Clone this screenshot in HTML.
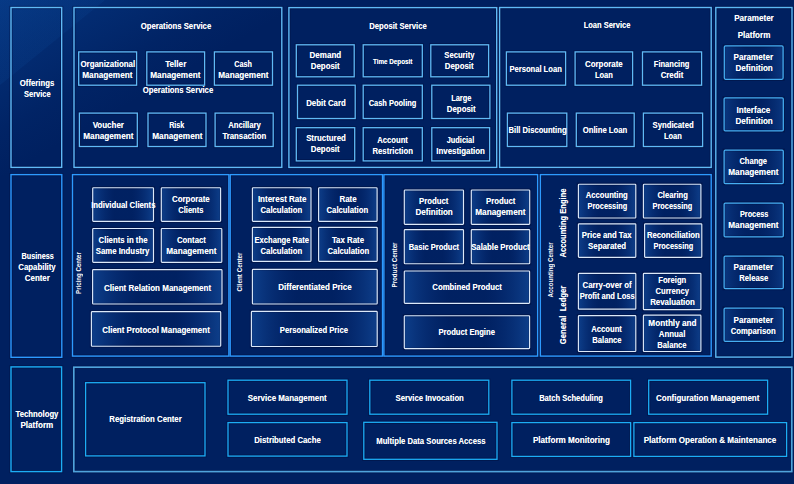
<!DOCTYPE html>
<html><head><meta charset="utf-8"><title>Architecture</title>
<style>
*{box-sizing:border-box;margin:0;padding:0}
html,body{width:794px;height:484px;overflow:hidden}
body{position:relative;background:#002060;font-family:"Liberation Sans",sans-serif;color:#fff;font-weight:bold;font-size:8.3px;line-height:11px;text-shadow:0 0 .6px rgba(255,255,255,.55)}
#bg{position:absolute;left:0;top:0;width:794px;height:484px;background:
 linear-gradient(141deg, rgba(16,90,175,.12) 0, rgba(16,90,175,.12) 7.5%, rgba(16,90,175,0) 7.6%),
 linear-gradient(150deg, rgba(12,78,165,.46) 0, rgba(12,78,165,.26) 7%, rgba(12,78,165,.08) 14%, rgba(12,78,165,0) 19%);}
svg{position:absolute;left:0;top:0}
.t{position:absolute;display:flex;flex-direction:column;align-items:center;justify-content:center;text-align:center}
span{display:block;white-space:pre}
.small span{font-size:6.6px}
.l{position:absolute;transform:translate(-50%,-50%);display:flex;flex-direction:column;align-items:center}
.v{position:absolute;transform:translate(-50%,-50%) rotate(-90deg)}
.vs{font-size:6.6px;line-height:8px;text-shadow:none}
</style></head><body>
<div id="bg"></div>
<svg width="794" height="484" viewBox="0 0 794 484">
<defs>
<linearGradient id="gw" x1="0" y1="0" x2="1" y2="0"><stop offset="0" stop-color="#1e64be" stop-opacity=".45"/><stop offset=".36" stop-color="#0a3282" stop-opacity=".06"/><stop offset=".64" stop-color="#0a3282" stop-opacity=".06"/><stop offset="1" stop-color="#1e64be" stop-opacity=".45"/></linearGradient>
<linearGradient id="gp" x1="0" y1="0" x2="1" y2="0"><stop offset="0" stop-color="#1e64be" stop-opacity=".34"/><stop offset=".38" stop-color="#0a3282" stop-opacity=".08"/><stop offset=".62" stop-color="#0a3282" stop-opacity=".08"/><stop offset="1" stop-color="#1e64be" stop-opacity=".34"/></linearGradient>
</defs>
<g fill="none" stroke="#001040" stroke-opacity=".55" stroke-width="3.2">
<rect x="11.0" y="7.5" width="50.7" height="159.9"/>
<rect x="74.0" y="7.5" width="207.8" height="159.9"/>
<rect x="288.9" y="7.6" width="207.8" height="159.8"/>
<rect x="499.6" y="7.5" width="211.6" height="159.9"/>
<rect x="715.8" y="7.5" width="76.2" height="349.6"/>
<rect x="11.0" y="174.6" width="50.8" height="182.7"/>
<rect x="72.5" y="174.6" width="156.4" height="181.5"/>
<rect x="230.2" y="174.6" width="152.3" height="181.5"/>
<rect x="383.9" y="174.6" width="153.7" height="181.5"/>
<rect x="540.4" y="174.6" width="170.8" height="181.5"/>
<rect x="11.0" y="366.9" width="50.6" height="104.7"/>
<rect x="73.8" y="367.2" width="718.0" height="104.4"/>
<rect x="78.7" y="51.9" width="57.9" height="33.3"/>
<rect x="146.8" y="51.9" width="57.8" height="33.3"/>
<rect x="214.4" y="51.9" width="58.1" height="33.3"/>
<rect x="79.4" y="113.1" width="57.9" height="33.4"/>
<rect x="148.0" y="113.1" width="58.0" height="33.4"/>
<rect x="215.1" y="113.1" width="58.1" height="33.4"/>
<rect x="296.3" y="44.8" width="57.9" height="32.0"/>
<rect x="363.2" y="44.8" width="59.1" height="32.0"/>
<rect x="430.8" y="44.8" width="57.8" height="32.0"/>
<rect x="297.5" y="85.2" width="57.7" height="33.3"/>
<rect x="363.2" y="85.2" width="59.1" height="33.3"/>
<rect x="431.8" y="85.2" width="58.1" height="33.3"/>
<rect x="296.3" y="127.7" width="58.4" height="33.2"/>
<rect x="363.2" y="127.7" width="59.1" height="33.2"/>
<rect x="431.8" y="127.7" width="57.8" height="33.2"/>
<rect x="506.4" y="51.9" width="59.2" height="33.3"/>
<rect x="575.1" y="51.9" width="57.5" height="33.3"/>
<rect x="642.5" y="51.9" width="59.1" height="33.3"/>
<rect x="507.4" y="113.1" width="59.4" height="33.4"/>
<rect x="576.3" y="113.1" width="57.9" height="33.4"/>
<rect x="643.4" y="113.1" width="59.2" height="33.4"/>
<rect x="85.6" y="382.7" width="119.4" height="73.2"/>
<rect x="228.0" y="380.2" width="119.0" height="34.0"/>
<rect x="228.0" y="422.6" width="119.0" height="33.5"/>
<rect x="369.8" y="380.2" width="119.0" height="34.0"/>
<rect x="363.8" y="422.3" width="133.2" height="37.0"/>
<rect x="511.9" y="380.2" width="118.7" height="34.0"/>
<rect x="511.9" y="422.6" width="118.7" height="33.8"/>
<rect x="648.7" y="380.2" width="118.9" height="34.0"/>
<rect x="633.9" y="422.6" width="152.7" height="33.8"/>
<rect x="724.3" y="45.9" width="58.8" height="33.4"/>
<rect x="724.1" y="97.9" width="59.2" height="33.0"/>
<rect x="724.1" y="150.2" width="59.2" height="33.4"/>
<rect x="724.1" y="203.0" width="59.2" height="33.9"/>
<rect x="724.1" y="256.0" width="59.2" height="32.6"/>
<rect x="724.1" y="308.0" width="59.2" height="33.4"/>
<rect x="92.7" y="187.7" width="60.8" height="33.7"/>
<rect x="161.3" y="187.7" width="59.3" height="33.7"/>
<rect x="92.7" y="228.5" width="60.8" height="33.8"/>
<rect x="161.3" y="228.5" width="60.5" height="33.8"/>
<rect x="92.6" y="269.6" width="129.4" height="34.4"/>
<rect x="91.4" y="311.6" width="129.3" height="34.6"/>
<rect x="252.4" y="187.7" width="58.6" height="33.7"/>
<rect x="318.6" y="187.7" width="58.5" height="33.7"/>
<rect x="252.4" y="227.3" width="58.6" height="34.1"/>
<rect x="318.6" y="227.3" width="58.6" height="34.1"/>
<rect x="252.4" y="269.4" width="124.8" height="34.6"/>
<rect x="251.4" y="311.4" width="125.8" height="35.1"/>
<rect x="404.3" y="190.0" width="59.2" height="34.3"/>
<rect x="471.3" y="190.0" width="58.4" height="34.3"/>
<rect x="404.3" y="229.6" width="59.2" height="34.1"/>
<rect x="471.3" y="229.6" width="58.4" height="34.1"/>
<rect x="404.3" y="271.0" width="125.3" height="32.3"/>
<rect x="404.3" y="315.7" width="125.3" height="32.9"/>
<rect x="578.4" y="184.2" width="57.4" height="33.8"/>
<rect x="643.4" y="184.2" width="57.5" height="33.8"/>
<rect x="578.4" y="223.8" width="57.4" height="33.6"/>
<rect x="644.6" y="223.8" width="57.2" height="33.6"/>
<rect x="578.4" y="273.3" width="57.4" height="35.9"/>
<rect x="643.4" y="273.3" width="57.5" height="36.4"/>
<rect x="578.4" y="315.6" width="57.4" height="35.9"/>
<rect x="643.4" y="315.1" width="57.5" height="36.4"/>
</g>
<rect x="11.0" y="7.5" width="50.7" height="159.9" fill="none" stroke="#60baf7" stroke-width="1.4"/>
<rect x="74.0" y="7.5" width="207.8" height="159.9" fill="none" stroke="#60baf7" stroke-width="1.4"/>
<rect x="288.9" y="7.6" width="207.8" height="159.8" fill="none" stroke="#60baf7" stroke-width="1.4"/>
<rect x="499.6" y="7.5" width="211.6" height="159.9" fill="none" stroke="#60baf7" stroke-width="1.4"/>
<rect x="715.8" y="7.5" width="76.2" height="349.6" fill="none" stroke="#5cb8f4" stroke-width="1.4"/>
<rect x="11.0" y="174.6" width="50.8" height="182.7" fill="none" stroke="#2d9aff" stroke-width="1.4"/>
<rect x="72.5" y="174.6" width="156.4" height="181.5" fill="none" stroke="#2d9aff" stroke-width="1.4"/>
<rect x="230.2" y="174.6" width="152.3" height="181.5" fill="none" stroke="#2d9aff" stroke-width="1.4"/>
<rect x="383.9" y="174.6" width="153.7" height="181.5" fill="none" stroke="#2d9aff" stroke-width="1.4"/>
<rect x="540.4" y="174.6" width="170.8" height="181.5" fill="none" stroke="#2d9aff" stroke-width="1.4"/>
<rect x="11.0" y="366.9" width="50.6" height="104.7" fill="none" stroke="#1cadf6" stroke-width="1.4"/>
<rect x="73.8" y="367.2" width="718.0" height="104.4" fill="none" stroke="#4fa3dc" stroke-width="1.7"/>
<rect x="78.7" y="51.9" width="57.9" height="33.3" fill="none" stroke="#60baf7" stroke-width="1.3"/>
<rect x="146.8" y="51.9" width="57.8" height="33.3" fill="none" stroke="#60baf7" stroke-width="1.3"/>
<rect x="214.4" y="51.9" width="58.1" height="33.3" fill="none" stroke="#60baf7" stroke-width="1.3"/>
<rect x="79.4" y="113.1" width="57.9" height="33.4" fill="none" stroke="#60baf7" stroke-width="1.3"/>
<rect x="148.0" y="113.1" width="58.0" height="33.4" fill="none" stroke="#60baf7" stroke-width="1.3"/>
<rect x="215.1" y="113.1" width="58.1" height="33.4" fill="none" stroke="#60baf7" stroke-width="1.3"/>
<rect x="296.3" y="44.8" width="57.9" height="32.0" fill="none" stroke="#60baf7" stroke-width="1.3"/>
<rect x="363.2" y="44.8" width="59.1" height="32.0" fill="none" stroke="#60baf7" stroke-width="1.3"/>
<rect x="430.8" y="44.8" width="57.8" height="32.0" fill="none" stroke="#60baf7" stroke-width="1.3"/>
<rect x="297.5" y="85.2" width="57.7" height="33.3" fill="none" stroke="#60baf7" stroke-width="1.3"/>
<rect x="363.2" y="85.2" width="59.1" height="33.3" fill="none" stroke="#60baf7" stroke-width="1.3"/>
<rect x="431.8" y="85.2" width="58.1" height="33.3" fill="none" stroke="#60baf7" stroke-width="1.3"/>
<rect x="296.3" y="127.7" width="58.4" height="33.2" fill="none" stroke="#60baf7" stroke-width="1.3"/>
<rect x="363.2" y="127.7" width="59.1" height="33.2" fill="none" stroke="#60baf7" stroke-width="1.3"/>
<rect x="431.8" y="127.7" width="57.8" height="33.2" fill="none" stroke="#60baf7" stroke-width="1.3"/>
<rect x="506.4" y="51.9" width="59.2" height="33.3" fill="none" stroke="#60baf7" stroke-width="1.3"/>
<rect x="575.1" y="51.9" width="57.5" height="33.3" fill="none" stroke="#60baf7" stroke-width="1.3"/>
<rect x="642.5" y="51.9" width="59.1" height="33.3" fill="none" stroke="#60baf7" stroke-width="1.3"/>
<rect x="507.4" y="113.1" width="59.4" height="33.4" fill="none" stroke="#60baf7" stroke-width="1.3"/>
<rect x="576.3" y="113.1" width="57.9" height="33.4" fill="none" stroke="#60baf7" stroke-width="1.3"/>
<rect x="643.4" y="113.1" width="59.2" height="33.4" fill="none" stroke="#60baf7" stroke-width="1.3"/>
<rect x="85.6" y="382.7" width="119.4" height="73.2" fill="none" stroke="#1cadf6" stroke-width="1.3"/>
<rect x="228.0" y="380.2" width="119.0" height="34.0" fill="none" stroke="#1cadf6" stroke-width="1.3"/>
<rect x="228.0" y="422.6" width="119.0" height="33.5" fill="none" stroke="#1cadf6" stroke-width="1.3"/>
<rect x="369.8" y="380.2" width="119.0" height="34.0" fill="none" stroke="#1cadf6" stroke-width="1.3"/>
<rect x="363.8" y="422.3" width="133.2" height="37.0" fill="none" stroke="#1cadf6" stroke-width="1.3"/>
<rect x="511.9" y="380.2" width="118.7" height="34.0" fill="none" stroke="#1cadf6" stroke-width="1.3"/>
<rect x="511.9" y="422.6" width="118.7" height="33.8" fill="none" stroke="#1cadf6" stroke-width="1.3"/>
<rect x="648.7" y="380.2" width="118.9" height="34.0" fill="none" stroke="#1cadf6" stroke-width="1.3"/>
<rect x="633.9" y="422.6" width="152.7" height="33.8" fill="none" stroke="#1cadf6" stroke-width="1.3"/>
<rect x="724.3" y="45.9" width="58.8" height="33.4" fill="url(#gp)" stroke="#46aef2" stroke-width="1.25" rx="1.2"/>
<rect x="724.1" y="97.9" width="59.2" height="33.0" fill="url(#gp)" stroke="#46aef2" stroke-width="1.25" rx="1.2"/>
<rect x="724.1" y="150.2" width="59.2" height="33.4" fill="url(#gp)" stroke="#46aef2" stroke-width="1.25" rx="1.2"/>
<rect x="724.1" y="203.0" width="59.2" height="33.9" fill="url(#gp)" stroke="#46aef2" stroke-width="1.25" rx="1.2"/>
<rect x="724.1" y="256.0" width="59.2" height="32.6" fill="url(#gp)" stroke="#46aef2" stroke-width="1.25" rx="1.2"/>
<rect x="724.1" y="308.0" width="59.2" height="33.4" fill="url(#gp)" stroke="#46aef2" stroke-width="1.25" rx="1.2"/>
<rect x="92.7" y="187.7" width="60.8" height="33.7" fill="url(#gw)" stroke="#dce9fa" stroke-width="1.15" rx="0.8"/>
<rect x="161.3" y="187.7" width="59.3" height="33.7" fill="url(#gw)" stroke="#dce9fa" stroke-width="1.15" rx="0.8"/>
<rect x="92.7" y="228.5" width="60.8" height="33.8" fill="url(#gw)" stroke="#dce9fa" stroke-width="1.15" rx="0.8"/>
<rect x="161.3" y="228.5" width="60.5" height="33.8" fill="url(#gw)" stroke="#dce9fa" stroke-width="1.15" rx="0.8"/>
<rect x="92.6" y="269.6" width="129.4" height="34.4" fill="url(#gw)" stroke="#dce9fa" stroke-width="1.15" rx="0.8"/>
<rect x="91.4" y="311.6" width="129.3" height="34.6" fill="url(#gw)" stroke="#dce9fa" stroke-width="1.15" rx="0.8"/>
<rect x="252.4" y="187.7" width="58.6" height="33.7" fill="url(#gw)" stroke="#dce9fa" stroke-width="1.15" rx="0.8"/>
<rect x="318.6" y="187.7" width="58.5" height="33.7" fill="url(#gw)" stroke="#dce9fa" stroke-width="1.15" rx="0.8"/>
<rect x="252.4" y="227.3" width="58.6" height="34.1" fill="url(#gw)" stroke="#dce9fa" stroke-width="1.15" rx="0.8"/>
<rect x="318.6" y="227.3" width="58.6" height="34.1" fill="url(#gw)" stroke="#dce9fa" stroke-width="1.15" rx="0.8"/>
<rect x="252.4" y="269.4" width="124.8" height="34.6" fill="url(#gw)" stroke="#dce9fa" stroke-width="1.15" rx="0.8"/>
<rect x="251.4" y="311.4" width="125.8" height="35.1" fill="url(#gw)" stroke="#dce9fa" stroke-width="1.15" rx="0.8"/>
<rect x="404.3" y="190.0" width="59.2" height="34.3" fill="url(#gw)" stroke="#dce9fa" stroke-width="1.15" rx="0.8"/>
<rect x="471.3" y="190.0" width="58.4" height="34.3" fill="url(#gw)" stroke="#dce9fa" stroke-width="1.15" rx="0.8"/>
<rect x="404.3" y="229.6" width="59.2" height="34.1" fill="url(#gw)" stroke="#dce9fa" stroke-width="1.15" rx="0.8"/>
<rect x="471.3" y="229.6" width="58.4" height="34.1" fill="url(#gw)" stroke="#dce9fa" stroke-width="1.15" rx="0.8"/>
<rect x="404.3" y="271.0" width="125.3" height="32.3" fill="url(#gw)" stroke="#dce9fa" stroke-width="1.15" rx="0.8"/>
<rect x="404.3" y="315.7" width="125.3" height="32.9" fill="url(#gw)" stroke="#dce9fa" stroke-width="1.15" rx="0.8"/>
<rect x="578.4" y="184.2" width="57.4" height="33.8" fill="url(#gw)" stroke="#dce9fa" stroke-width="1.15" rx="0.8"/>
<rect x="643.4" y="184.2" width="57.5" height="33.8" fill="url(#gw)" stroke="#dce9fa" stroke-width="1.15" rx="0.8"/>
<rect x="578.4" y="223.8" width="57.4" height="33.6" fill="url(#gw)" stroke="#dce9fa" stroke-width="1.15" rx="0.8"/>
<rect x="644.6" y="223.8" width="57.2" height="33.6" fill="url(#gw)" stroke="#dce9fa" stroke-width="1.15" rx="0.8"/>
<rect x="578.4" y="273.3" width="57.4" height="35.9" fill="url(#gw)" stroke="#dce9fa" stroke-width="1.15" rx="0.8"/>
<rect x="643.4" y="273.3" width="57.5" height="36.4" fill="url(#gw)" stroke="#dce9fa" stroke-width="1.15" rx="0.8"/>
<rect x="578.4" y="315.6" width="57.4" height="35.9" fill="url(#gw)" stroke="#dce9fa" stroke-width="1.15" rx="0.8"/>
<rect x="643.4" y="315.1" width="57.5" height="36.4" fill="url(#gw)" stroke="#dce9fa" stroke-width="1.15" rx="0.8"/>
</svg>
<div class="t" style="left:78.7px;top:53.3px;width:57.9px;height:33.3px"><span style="transform:scaleX(0.949)">Organizational</span><span style="transform:scaleX(0.989)">Management</span></div>
<div class="t" style="left:146.8px;top:53.3px;width:57.8px;height:33.3px"><span style="transform:scaleX(0.982)">Teller</span><span style="transform:scaleX(0.989)">Management</span></div>
<div class="t" style="left:214.4px;top:53.3px;width:58.1px;height:33.3px"><span style="transform:scaleX(0.869)">Cash</span><span style="transform:scaleX(0.989)">Management</span></div>
<div class="t" style="left:79.4px;top:114.5px;width:57.9px;height:33.4px"><span style="transform:scaleX(0.961)">Voucher</span><span style="transform:scaleX(0.989)">Management</span></div>
<div class="t" style="left:148.0px;top:114.5px;width:58.0px;height:33.4px"><span style="transform:scaleX(0.867)">Risk</span><span style="transform:scaleX(0.989)">Management</span></div>
<div class="t" style="left:215.1px;top:114.0px;width:58.1px;height:33.4px"><span style="transform:scaleX(0.930)">Ancillary</span><span style="transform:scaleX(0.939)">Transaction</span></div>
<div class="t" style="left:296.3px;top:45.3px;width:57.9px;height:32.0px"><span style="transform:scaleX(0.966)">Demand</span><span style="transform:scaleX(0.946)">Deposit</span></div>
<div class="t small" style="left:363.2px;top:45.5px;width:59.1px;height:32.0px"><span style="transform:scaleX(0.955)">Time Deposit</span></div>
<div class="t" style="left:430.8px;top:45.1px;width:57.8px;height:32.0px"><span style="transform:scaleX(0.921)">Security</span><span style="transform:scaleX(0.946)">Deposit</span></div>
<div class="t" style="left:297.5px;top:87.2px;width:57.7px;height:33.3px"><span style="transform:scaleX(0.944)">Debit Card</span></div>
<div class="t" style="left:363.2px;top:87.2px;width:59.1px;height:33.3px"><span style="transform:scaleX(0.899)">Cash Pooling</span></div>
<div class="t" style="left:431.8px;top:87.1px;width:58.1px;height:33.3px"><span style="transform:scaleX(0.896)">Large</span><span style="transform:scaleX(0.946)">Deposit</span></div>
<div class="t" style="left:296.3px;top:127.6px;width:58.4px;height:33.2px"><span style="transform:scaleX(0.946)">Structured</span><span style="transform:scaleX(0.946)">Deposit</span></div>
<div class="t" style="left:363.2px;top:129.1px;width:59.1px;height:33.2px"><span style="transform:scaleX(0.922)">Account</span><span style="transform:scaleX(0.934)">Restriction</span></div>
<div class="t" style="left:431.8px;top:129.1px;width:57.8px;height:33.2px"><span style="transform:scaleX(0.890)">Judicial</span><span style="transform:scaleX(0.951)">Investigation</span></div>
<div class="t" style="left:506.4px;top:53.0px;width:59.2px;height:33.3px"><span style="transform:scaleX(0.916)">Personal Loan</span></div>
<div class="t" style="left:575.1px;top:53.3px;width:57.5px;height:33.3px"><span style="transform:scaleX(0.952)">Corporate</span><span style="transform:scaleX(0.904)">Loan</span></div>
<div class="t" style="left:642.5px;top:53.3px;width:59.1px;height:33.3px"><span style="transform:scaleX(0.907)">Financing</span><span style="transform:scaleX(0.945)">Credit</span></div>
<div class="t" style="left:507.4px;top:113.9px;width:59.4px;height:33.4px"><span style="transform:scaleX(0.917)">Bill Discounting</span></div>
<div class="t" style="left:576.3px;top:114.1px;width:57.9px;height:33.4px"><span style="transform:scaleX(0.931)">Online Loan</span></div>
<div class="t" style="left:643.4px;top:114.0px;width:59.2px;height:33.4px"><span style="transform:scaleX(0.928)">Syndicated</span><span style="transform:scaleX(0.904)">Loan</span></div>
<div class="t" style="left:85.6px;top:383.0px;width:119.4px;height:73.2px"><span style="transform:scaleX(0.941)">Registration Center</span></div>
<div class="t" style="left:228.0px;top:381.1px;width:119.0px;height:34.0px"><span style="transform:scaleX(0.956)">Service Management</span></div>
<div class="t" style="left:228.0px;top:423.5px;width:119.0px;height:33.5px"><span style="transform:scaleX(0.937)">Distributed Cache</span></div>
<div class="t" style="left:369.8px;top:381.1px;width:119.0px;height:34.0px"><span style="transform:scaleX(0.932)">Service Invocation</span></div>
<div class="t" style="left:363.8px;top:423.2px;width:133.2px;height:37.0px"><span style="transform:scaleX(0.928)">Multiple Data Sources Access</span></div>
<div class="t" style="left:511.9px;top:381.1px;width:118.7px;height:34.0px"><span style="transform:scaleX(0.910)">Batch Scheduling</span></div>
<div class="t" style="left:511.9px;top:423.5px;width:118.7px;height:33.8px"><span style="transform:scaleX(0.977)">Platform Monitoring</span></div>
<div class="t" style="left:648.7px;top:381.1px;width:118.9px;height:34.0px"><span style="transform:scaleX(0.963)">Configuration Management</span></div>
<div class="t" style="left:633.9px;top:423.5px;width:152.7px;height:33.8px"><span style="transform:scaleX(0.976)">Platform Operation &amp; Maintenance</span></div>
<div class="t" style="left:724.3px;top:46.5px;width:58.8px;height:33.4px"><span style="transform:scaleX(0.974)">Parameter</span><span style="transform:scaleX(0.975)">Definition</span></div>
<div class="t" style="left:724.1px;top:99.0px;width:59.2px;height:33.0px"><span style="transform:scaleX(0.973)">Interface</span><span style="transform:scaleX(0.975)">Definition</span></div>
<div class="t" style="left:724.1px;top:150.8px;width:59.2px;height:33.4px"><span style="transform:scaleX(0.909)">Change</span><span style="transform:scaleX(0.989)">Management</span></div>
<div class="t" style="left:724.1px;top:203.2px;width:59.2px;height:33.9px"><span style="transform:scaleX(0.876)">Process</span><span style="transform:scaleX(0.989)">Management</span></div>
<div class="t" style="left:724.1px;top:256.6px;width:59.2px;height:32.6px"><span style="transform:scaleX(0.974)">Parameter</span><span style="transform:scaleX(0.921)">Release</span></div>
<div class="t" style="left:724.1px;top:309.3px;width:59.2px;height:33.4px"><span style="transform:scaleX(0.974)">Parameter</span><span style="transform:scaleX(0.927)">Comparison</span></div>
<div class="t" style="left:92.7px;top:188.5px;width:60.8px;height:33.7px"><span style="transform:scaleX(0.937)">Individual Clients</span></div>
<div class="t" style="left:161.3px;top:188.4px;width:59.3px;height:33.7px"><span style="transform:scaleX(0.952)">Corporate</span><span style="transform:scaleX(0.913)">Clients</span></div>
<div class="t" style="left:92.7px;top:229.2px;width:60.8px;height:33.8px"><span style="transform:scaleX(0.938)">Clients in the</span><span style="transform:scaleX(0.938)">Same Industry</span></div>
<div class="t" style="left:161.3px;top:229.2px;width:60.5px;height:33.8px"><span style="transform:scaleX(0.935)">Contact</span><span style="transform:scaleX(0.989)">Management</span></div>
<div class="t" style="left:92.6px;top:271.2px;width:129.4px;height:34.4px"><span style="transform:scaleX(0.964)">Client Relation Management</span></div>
<div class="t" style="left:91.4px;top:313.2px;width:129.3px;height:34.6px"><span style="transform:scaleX(0.960)">Client Protocol Management</span></div>
<div class="t" style="left:252.4px;top:187.9px;width:58.6px;height:33.7px"><span style="transform:scaleX(0.965)">Interest Rate</span><span style="transform:scaleX(0.932)">Calculation</span></div>
<div class="t" style="left:318.6px;top:187.9px;width:58.5px;height:33.7px"><span style="transform:scaleX(0.954)">Rate</span><span style="transform:scaleX(0.932)">Calculation</span></div>
<div class="t" style="left:252.4px;top:228.5px;width:58.6px;height:34.1px"><span style="transform:scaleX(0.914)">Exchange Rate</span><span style="transform:scaleX(0.932)">Calculation</span></div>
<div class="t" style="left:318.6px;top:228.5px;width:58.6px;height:34.1px"><span style="transform:scaleX(0.948)">Tax Rate</span><span style="transform:scaleX(0.932)">Calculation</span></div>
<div class="t" style="left:252.4px;top:270.6px;width:124.8px;height:34.6px"><span style="transform:scaleX(0.965)">Differentiated Price</span></div>
<div class="t" style="left:251.4px;top:312.6px;width:125.8px;height:35.1px"><span style="transform:scaleX(0.923)">Personalized Price</span></div>
<div class="t" style="left:404.3px;top:189.8px;width:59.2px;height:34.3px"><span style="transform:scaleX(0.937)">Product</span><span style="transform:scaleX(0.975)">Definition</span></div>
<div class="t" style="left:471.3px;top:189.8px;width:58.4px;height:34.3px"><span style="transform:scaleX(0.937)">Product</span><span style="transform:scaleX(0.989)">Management</span></div>
<div class="t" style="left:404.3px;top:230.2px;width:59.2px;height:34.1px"><span style="transform:scaleX(0.904)">Basic Product</span></div>
<div class="t" style="left:471.3px;top:230.2px;width:58.4px;height:34.1px"><span style="transform:scaleX(0.930)">Salable Product</span></div>
<div class="t" style="left:404.3px;top:271.4px;width:125.3px;height:32.3px"><span style="transform:scaleX(0.937)">Combined Product</span></div>
<div class="t" style="left:404.3px;top:316.1px;width:125.3px;height:32.9px"><span style="transform:scaleX(0.921)">Product Engine</span></div>
<div class="t" style="left:578.4px;top:184.4px;width:57.4px;height:33.8px"><span style="transform:scaleX(0.918)">Accounting</span><span style="transform:scaleX(0.885)">Processing</span></div>
<div class="t" style="left:643.4px;top:184.4px;width:57.5px;height:33.8px"><span style="transform:scaleX(0.917)">Clearing</span><span style="transform:scaleX(0.885)">Processing</span></div>
<div class="t" style="left:578.4px;top:224.0px;width:57.4px;height:33.6px"><span style="transform:scaleX(0.931)">Price and Tax</span><span style="transform:scaleX(0.951)">Separated</span></div>
<div class="t" style="left:644.6px;top:224.0px;width:57.2px;height:33.6px"><span style="transform:scaleX(0.932)">Reconciliation</span><span style="transform:scaleX(0.885)">Processing</span></div>
<div class="t" style="left:578.4px;top:273.5px;width:57.4px;height:35.9px"><span style="transform:scaleX(0.943)">Carry-over of</span><span style="transform:scaleX(0.911)">Profit and Loss</span></div>
<div class="t" style="left:643.4px;top:273.5px;width:57.5px;height:36.4px"><span style="transform:scaleX(0.920)">Foreign</span><span style="transform:scaleX(0.916)">Currency</span><span style="transform:scaleX(0.952)">Revaluation</span></div>
<div class="t" style="left:578.4px;top:316.6px;width:57.4px;height:35.9px"><span style="transform:scaleX(0.922)">Account</span><span style="transform:scaleX(0.920)">Balance</span></div>
<div class="t" style="left:643.4px;top:316.2px;width:57.5px;height:36.4px"><span style="transform:scaleX(0.985)">Monthly and</span><span style="transform:scaleX(0.946)">Annual</span><span style="transform:scaleX(0.920)">Balance</span></div>
<div class="l" style="left:37.2px;top:88.5px"><span style="transform:scaleX(0.932)">Offerings</span><span style="transform:scaleX(0.905)">Service</span></div>
<div class="l" style="left:37.2px;top:266.5px"><span style="transform:scaleX(0.873)">Business</span><span style="transform:scaleX(0.942)">Capability</span><span style="transform:scaleX(0.950)">Center</span></div>
<div class="l" style="left:37.1px;top:420.25px"><span style="transform:scaleX(0.932)">Technology</span><span style="transform:scaleX(0.973)">Platform</span></div>
<div class="l" style="left:175.95px;top:26.05px"><span style="transform:scaleX(0.931)">Operations Service</span></div>
<div class="l" style="left:177.85px;top:89.5px"><span style="transform:scaleX(0.931)">Operations Service</span></div>
<div class="l" style="left:398.15px;top:25.6px"><span style="transform:scaleX(0.924)">Deposit Service</span></div>
<div class="l" style="left:607.1px;top:25.3px"><span style="transform:scaleX(0.904)">Loan Service</span></div>
<div class="l" style="left:753.8px;top:18.2px"><span style="transform:scaleX(0.974)">Parameter</span></div>
<div class="l" style="left:754px;top:35.4px"><span style="transform:scaleX(0.973)">Platform</span></div>
<div class="v vs" style="left:79px;top:272.5px"><span style="transform:scaleX(0.927)">Pricing Center</span></div>
<div class="v vs" style="left:239.6px;top:272px"><span style="transform:scaleX(0.948)">Client Center</span></div>
<div class="v vs" style="left:394.7px;top:264.7px"><span style="transform:scaleX(0.946)">Product Center</span></div>
<div class="v vs" style="left:551.3px;top:270px"><span style="transform:scaleX(0.934)">Accounting Center</span></div>
<div class="v vb" style="left:563.4px;top:223.3px"><span style="transform:scaleX(0.913)">Accounting Engine</span></div>
<div class="v vb" style="left:563.4px;top:315px"><span style="transform:scaleX(0.929)">General  Ledger</span></div>
</body></html>
